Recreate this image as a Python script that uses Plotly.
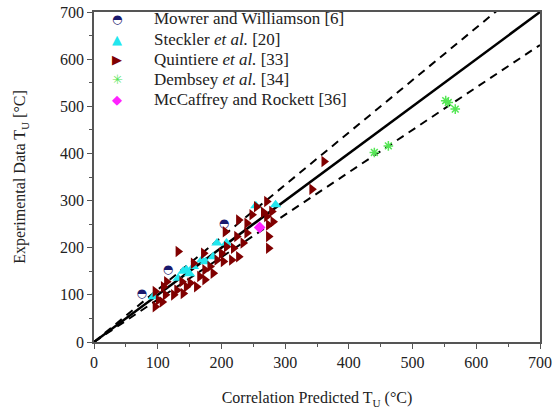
import plotly.graph_objects as go

# Measured vs. correlation-predicted upper layer temperatures (°C)
mowrer_pred = [75, 116, 204]
mowrer_exp = [101, 153, 250]

steckler_pred = [93, 132, 140, 145, 150, 156, 169, 175, 187, 193, 208, 254, 285]
steckler_exp = [96, 135, 150, 153, 145, 160, 174, 170, 181, 210, 210, 289, 291]

quintiere_pred = [96, 96, 101, 107, 109, 112, 114, 125, 130, 132, 138, 140, 145, 151,
                  156, 161, 166, 172, 174, 174, 182, 187, 193, 200, 203, 206, 208, 216,
                  219, 224, 227, 227, 234, 240, 240, 248, 255, 266, 271, 271, 274, 274,
                  274, 279, 281, 342, 361]
quintiere_exp = [107, 75, 89, 85, 117, 100, 128, 100, 110, 192, 128, 103, 117, 125,
                 167, 117, 139, 188, 153, 132, 160, 146, 174, 188, 171, 234, 202, 174,
                 199, 224, 259, 181, 210, 231, 252, 270, 287, 275, 298, 266, 248, 224,
                 199, 277, 255, 324, 383]

dembsey_pred = [440, 462, 552, 556, 567]
dembsey_exp = [402, 416, 512, 508, 494]

mccaffrey_pred = [260]
mccaffrey_exp = [243]

# Perfect agreement line and ±10 % band
line_x = [0, 700]
band = 0.9

serif = '"Liberation Serif", "Times New Roman", Times, serif'
glyph_font = "DejaVu Sans"
ink = "#222222"
frame = "#555555"

navy = "#1a1a6e"
cyan = "#22e6ee"
maroon = "#800000"
green = "#55e655"
magenta = "#ff22ff"

fig = go.Figure()

fig.add_trace(go.Scatter(x=line_x, y=line_x, mode="lines",
                         line=dict(color="black", width=2.5)))
fig.add_trace(go.Scatter(x=line_x, y=[v / band for v in line_x], mode="lines",
                         line=dict(color="black", width=2, dash="8px,6px")))
fig.add_trace(go.Scatter(x=line_x, y=[v * band for v in line_x], mode="lines",
                         line=dict(color="black", width=2, dash="8px,6px")))

# half-filled circles are drawn as the ◓ glyph
fig.add_trace(go.Scatter(
    x=mowrer_pred, y=mowrer_exp, mode="text", text=["◓"] * len(mowrer_pred),
    textposition="middle center",
    textfont=dict(family=glyph_font, size=12, color=navy)))
fig.add_trace(go.Scatter(
    x=steckler_pred, y=steckler_exp, mode="markers",
    marker=dict(symbol="triangle-up", size=10, color=cyan, line=dict(width=0))))
fig.add_trace(go.Scatter(
    x=quintiere_pred, y=quintiere_exp, mode="markers",
    marker=dict(symbol="triangle-right", size=10, color=maroon, line=dict(width=0))))
fig.add_trace(go.Scatter(
    x=dembsey_pred, y=dembsey_exp, mode="markers",
    marker=dict(symbol="asterisk", size=8, color=green, line=dict(color=green, width=1.5))))
fig.add_trace(go.Scatter(
    x=mccaffrey_pred, y=mccaffrey_exp, mode="markers",
    marker=dict(symbol="diamond", size=9, color=magenta, line=dict(width=0))))

# Key in the upper-left corner of the plot
legend_labels = ["Mowrer and Williamson [6]", "Steckler <i>et al.</i> [20]",
                 "Quintiere <i>et al.</i> [33]", "Dembsey <i>et al.</i> [34]",
                 "McCaffrey and Rockett [36]"]
legend_glyphs = ["◓", "▲", "▶", "✳", "◆"]
legend_colors = [navy, cyan, maroon, green, magenta]
legend_glyph_sizes = [12, 13, 13, 13, 13]
row_top, row_step = 0.979, 0.061

annotations = []
for i, (lab, gl, col, gs) in enumerate(zip(legend_labels, legend_glyphs,
                                           legend_colors, legend_glyph_sizes)):
    yy = row_top - i * row_step
    annotations.append(dict(xref="paper", yref="paper", x=0.052, y=yy,
                            xanchor="center", yanchor="middle", showarrow=False,
                            text=gl, font=dict(family=glyph_font, size=gs, color=col)))
    annotations.append(dict(xref="paper", yref="paper", x=0.13, y=yy,
                            xanchor="left", yanchor="middle", showarrow=False,
                            text=lab, font=dict(family=serif, size=17, color=ink)))

axis_common = dict(
    range=[0, 700], dtick=100, showgrid=False, zeroline=False,
    showline=True, linecolor=frame, linewidth=1.5, mirror=True,
    ticks="outside", ticklen=5, tickcolor=frame, tickwidth=1.2,
    minor=dict(ticks="outside", ticklen=3, dtick=50, tickcolor=frame),
    tickfont=dict(family=serif, size=16, color=ink),
)

fig.update_layout(
    width=554, height=418,
    margin=dict(l=94, r=14, t=12, b=76, autoexpand=False),
    paper_bgcolor="white", plot_bgcolor="white",
    showlegend=False,
    font=dict(family=serif, color=ink),
    xaxis=dict(**axis_common,
               title=dict(text="Correlation Predicted T<sub>U</sub> (°C)",
                          font=dict(family=serif, size=16, color=ink), standoff=22)),
    yaxis=dict(**axis_common,
               title=dict(text="Experimental Data T<sub>U</sub> [°C]",
                          font=dict(family=serif, size=16, color=ink), standoff=30)),
    annotations=annotations,
)

fig.write_html("out.html")
